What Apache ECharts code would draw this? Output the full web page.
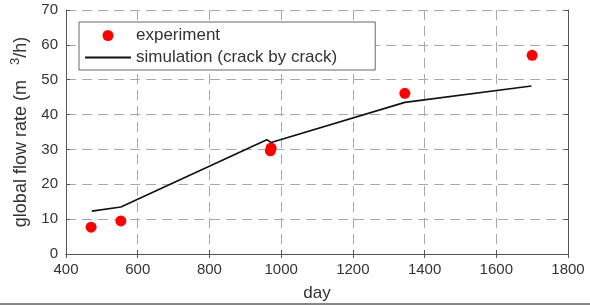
<!DOCTYPE html>
<html lang="en">
<head>
    <meta charset="UTF-8">
    <title>global flow rate</title>
    <script src="https://cdn.jsdelivr.net/npm/echarts@6/dist/echarts.min.js"></script>
    <style>
        * { margin: 0; padding: 0 }
        html, body { width: 100%; height: 100%; background: #fff; }
        #main { width: 590px; height: 306px; }
    </style>
</head>
<body>
<div id="main"></div>
<script>
    // experiment points [day, flow rate]
    var expDays = [470, 553, 970, 972, 1345, 1700];
    var expRate = [7.7, 9.5, 29.6, 30.4, 46.1, 57.0];

    // simulation (crack by crack)
    var simDays = [472, 553, 960, 972, 1345, 1698];
    var simRate = [12.3, 13.5, 32.8, 32.0, 43.5, 48.2];

    var xTicks = [400, 600, 800, 1000, 1200, 1400, 1600, 1800];
    var yTicks = [0, 10, 20, 30, 40, 50, 60, 70];

    var expData = expDays.map(function (d, i) { return [d, expRate[i]]; });
    var simData = simDays.map(function (d, i) { return [d, simRate[i]]; });

    var font = 'Liberation Sans, Arial, sans-serif';
    var gridLine = { show: true, lineStyle: { color: '#a8a8a8', type: [10, 6], width: 1 } };
    var frame = { show: true, lineStyle: { color: '#555', width: 1 } };
    var tick = { show: true, inside: true, length: 4, lineStyle: { color: '#555' } };

    var myChart = echarts.init(document.getElementById('main'));
    var option = {
        animation: false,
        textStyle: { fontFamily: font },
        grid: { left: 66, right: 22, top: 10, bottom: 52, show: false, containLabel: false, outerBoundsMode: 'none' },
        legend: {
            orient: 'vertical',
            left: 79,
            top: 22,
            padding: [5, 38, 4, 5],
            itemGap: 5,
            itemWidth: 46,
            itemHeight: 11,
            borderColor: '#666',
            borderWidth: 1,
            borderRadius: 0,
            backgroundColor: '#fff',
            textStyle: { fontSize: 17, color: '#333', fontFamily: font },
            data: [
                { name: 'experiment', icon: 'circle' },
                { name: 'simulation (crack by crack)', itemStyle: { color: 'transparent', borderWidth: 0 } }
            ]
        },
        xAxis: [{
            type: 'value', min: xTicks[0], max: xTicks[xTicks.length - 1], interval: 200,
            name: 'day', nameLocation: 'middle', nameGap: 31,
            nameTextStyle: { fontSize: 17, color: '#333' },
            axisLine: frame, axisTick: tick, splitLine: gridLine,
            axisLabel: { fontSize: 15, color: '#333', margin: 8, formatter: function (v) { return String(v); } }
        }, {
            type: 'value', position: 'top', min: xTicks[0], max: xTicks[xTicks.length - 1], interval: 200,
            axisLine: frame, axisTick: tick, splitLine: { show: false }, axisLabel: { show: false }
        }],
        yAxis: [{
            type: 'value', min: yTicks[0], max: yTicks[yTicks.length - 1], interval: 10,
            name: 'global flow rate (m   {sup|3}/h)', nameLocation: 'middle', nameGap: 31, nameRotate: 90,
            nameTextStyle: {
                fontSize: 18, color: '#333',
                rich: { sup: { fontSize: 13, color: '#333', padding: [0, 0, 11, 0] } }
            },
            axisLine: frame, axisTick: tick, splitLine: gridLine,
            axisLabel: { fontSize: 15, color: '#333', margin: 8 }
        }, {
            type: 'value', position: 'right', min: yTicks[0], max: yTicks[yTicks.length - 1], interval: 10,
            axisLine: frame, axisTick: tick, splitLine: { show: false }, axisLabel: { show: false }
        }],
        series: [
            {
                name: 'experiment',
                type: 'scatter',
                data: expData,
                symbol: 'circle',
                symbolSize: 11,
                itemStyle: { color: '#f00', opacity: 1 },
                z: 3
            },
            {
                name: 'simulation (crack by crack)',
                type: 'line',
                data: simData,
                showSymbol: false,
                symbol: 'none',
                itemStyle: { color: '#111' },
                lineStyle: { color: '#111', width: 1.6 },
                z: 2
            }
        ],
        graphic: [{
            type: 'line',
            shape: { x1: 0, y1: 304, x2: 590, y2: 304 },
            style: { stroke: '#888', lineWidth: 2 }
        }]
    };
    myChart.setOption(option);
</script>
</body>
</html>
